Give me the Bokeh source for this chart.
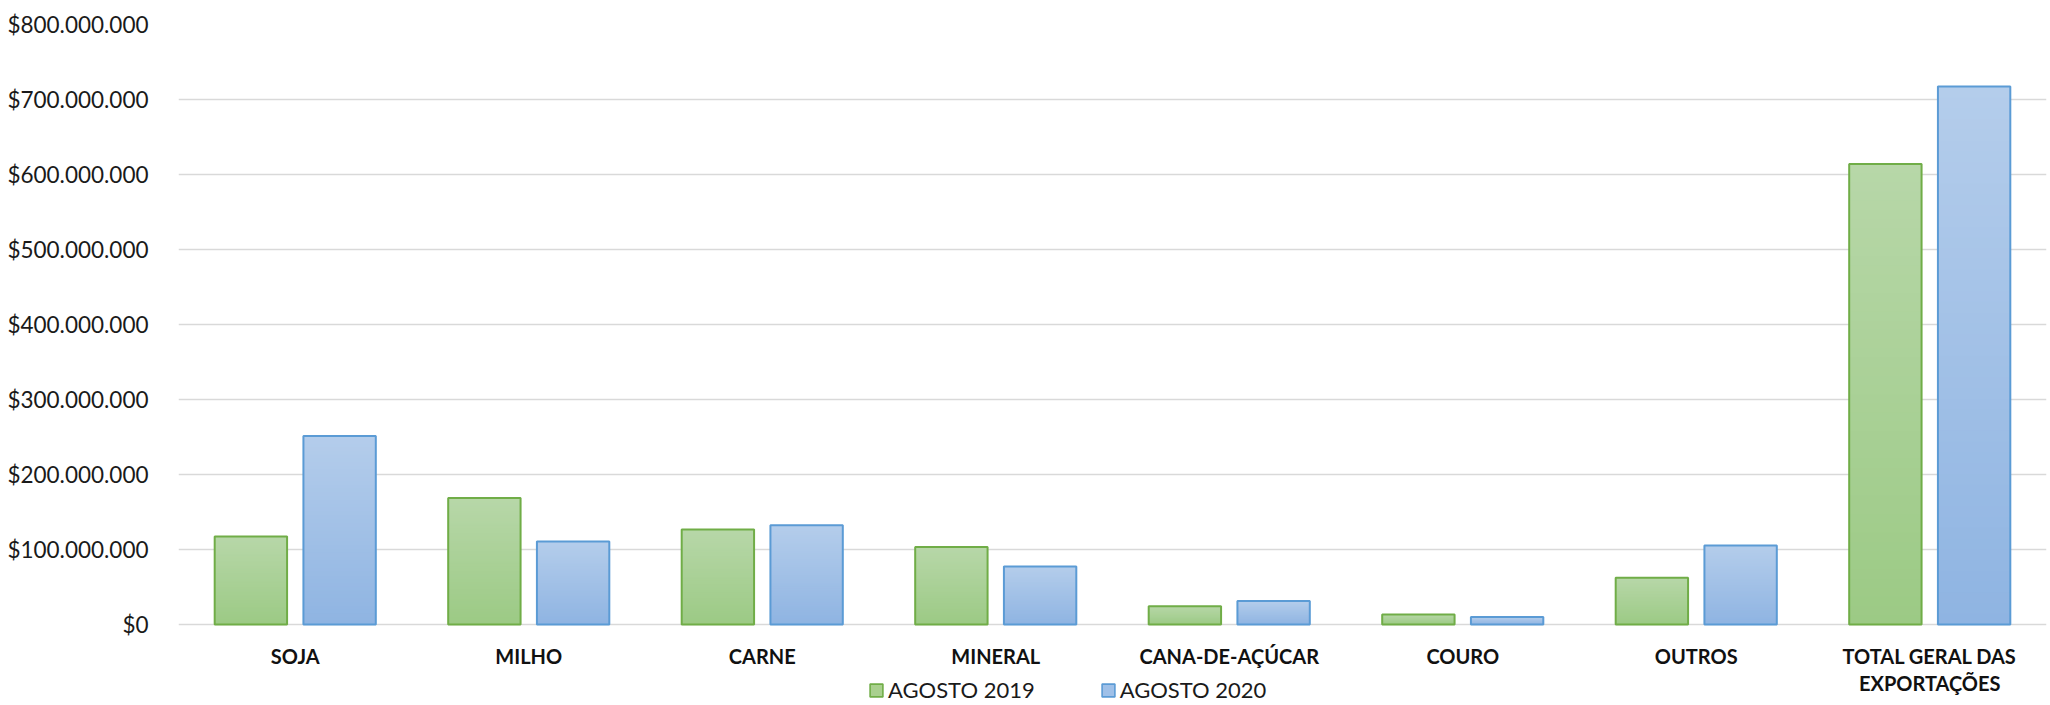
import numpy as np
from bokeh.plotting import figure
from bokeh.models import (ColumnDataSource, FactorRange, Range1d, Legend, LegendItem,
                          CustomJSTickFormatter, FixedTicker)
from bokeh.core.properties import value
from bokeh.transform import dodge
from bokeh.embed import file_html
from bokeh.resources import INLINE

# ---- data ----
categories = ["SOJA", "MILHO", "CARNE", "MINERAL", "CANA-DE-AÇÚCAR", "COURO", "OUTROS",
              "TOTAL GERAL DAS\nEXPORTAÇÕES"]
agosto_2019 = [117.5e6, 168.8e6, 126.8e6, 103.3e6, 24.5e6, 13.4e6, 62.4e6, 614.1e6]
agosto_2020 = [251.5e6, 110.8e6, 132.2e6, 77.4e6, 31.2e6, 9.9e6, 105.5e6, 717.2e6]
series_names = ["AGOSTO 2019", "AGOSTO 2020"]
y_ticks = [0, 100e6, 200e6, 300e6, 400e6, 500e6, 600e6, 700e6, 800e6]

# ---- styles / layout ----
FONT = "Lato"
styles = [
    dict(top=(183, 215, 168), bottom=(156, 202, 133), line="#70ad47", mid="#a9d08e", off=-0.19),
    dict(top=(180, 205, 235), bottom=(143, 180, 226), line="#5b9bd5", mid="#9fc0e8", off=0.19),
]
BAR_W = 0.31
NSLICE = 50
Y_MAX = 800e6
PLOT_PX = 600          # pixels from 0 to Y_MAX
BELOW_PX = 80          # pixels of the frame below zero (label + legend zone)
PX = Y_MAX / PLOT_PX   # data units per pixel

p = figure(x_range=FactorRange(factors=categories, range_padding=0),
           y_range=Range1d(-BELOW_PX * PX, Y_MAX),
           frame_width=1868, frame_height=PLOT_PX + BELOW_PX,
           min_border_left=178, min_border_right=2, min_border_top=24, min_border_bottom=0,
           x_axis_location=None,
           output_backend="svg", toolbar_location=None, title=None)

def hexc(rgb):
    return "#%02x%02x%02x" % tuple(int(round(c)) for c in rgb)

legend_items = []
for name, vals, st in zip(series_names, [agosto_2019, agosto_2020], styles):
    xs, bots, tops, cols = [], [], [], []
    for cat, v in zip(categories, vals):
        for k in range(NSLICE):
            t = k / (NSLICE - 1)
            c = [st["bottom"][i] + (st["top"][i] - st["bottom"][i]) * t for i in range(3)]
            xs.append(cat)
            bots.append(v * k / NSLICE)
            tops.append(v)
            cols.append(hexc(c))
    src = ColumnDataSource(dict(x=xs, bottom=bots, top=tops, color=cols))
    p.vbar(x=dodge("x", st["off"], range=p.x_range), bottom="bottom", top="top",
           width=BAR_W, source=src, fill_color="color", line_color=None)
    osrc = ColumnDataSource(dict(x=categories, top=vals))
    p.vbar(x=dodge("x", st["off"], range=p.x_range), top="top", width=BAR_W,
           source=osrc, fill_alpha=0, line_color=st["line"], line_width=2)
    # legend proxy (zero-size)
    lr = p.vbar(x=[categories[0]], top=[0], width=0.0, fill_color=st["mid"],
                line_color=st["line"], line_width=1.6)
    legend_items.append(LegendItem(label=name, renderers=[lr]))

# ---- category labels (below the zero line) ----
lsrc = ColumnDataSource(dict(x=categories, y=[-19 * PX] * len(categories), text=categories))
p.text(x="x", y="y", text="text", source=lsrc, text_font=value(FONT),
       text_font_style="bold", text_font_size="20px", text_color="#111111",
       text_align="center", text_baseline="top", text_line_height=1.15)

# ---- axes / grid ----
p.yaxis.ticker = FixedTicker(ticks=y_ticks)
p.yaxis.formatter = CustomJSTickFormatter(code="""
    return '$' + Math.round(tick).toString().replace(/\\B(?=(\\d{3})+(?!\\d))/g, '.');
""")
p.yaxis.axis_line_color = None
p.yaxis.major_tick_line_color = None
p.yaxis.minor_tick_line_color = None
p.yaxis.major_label_standoff = 24
p.yaxis.major_label_text_font = FONT
p.yaxis.major_label_text_font_size = "22.5px"
p.yaxis.major_label_text_color = "#1a1a1a"

p.xgrid.grid_line_color = None
p.ygrid.grid_line_color = "#d9d9d9"
p.ygrid.grid_line_width = 1.6
p.outline_line_color = None

legend = Legend(items=legend_items, orientation="horizontal", location=(690, 1),
                glyph_width=16, glyph_height=16, label_standoff=4, spacing=65,
                padding=0, margin=0, border_line_alpha=0, background_fill_alpha=0,
                label_height=16, label_text_line_height=1.0, label_text_baseline="middle",
                label_text_font=FONT, label_text_font_size="22px", label_text_color="#1a1a1a")
p.add_layout(legend, "center")

open("out.html", "w").write(file_html(p, INLINE))
